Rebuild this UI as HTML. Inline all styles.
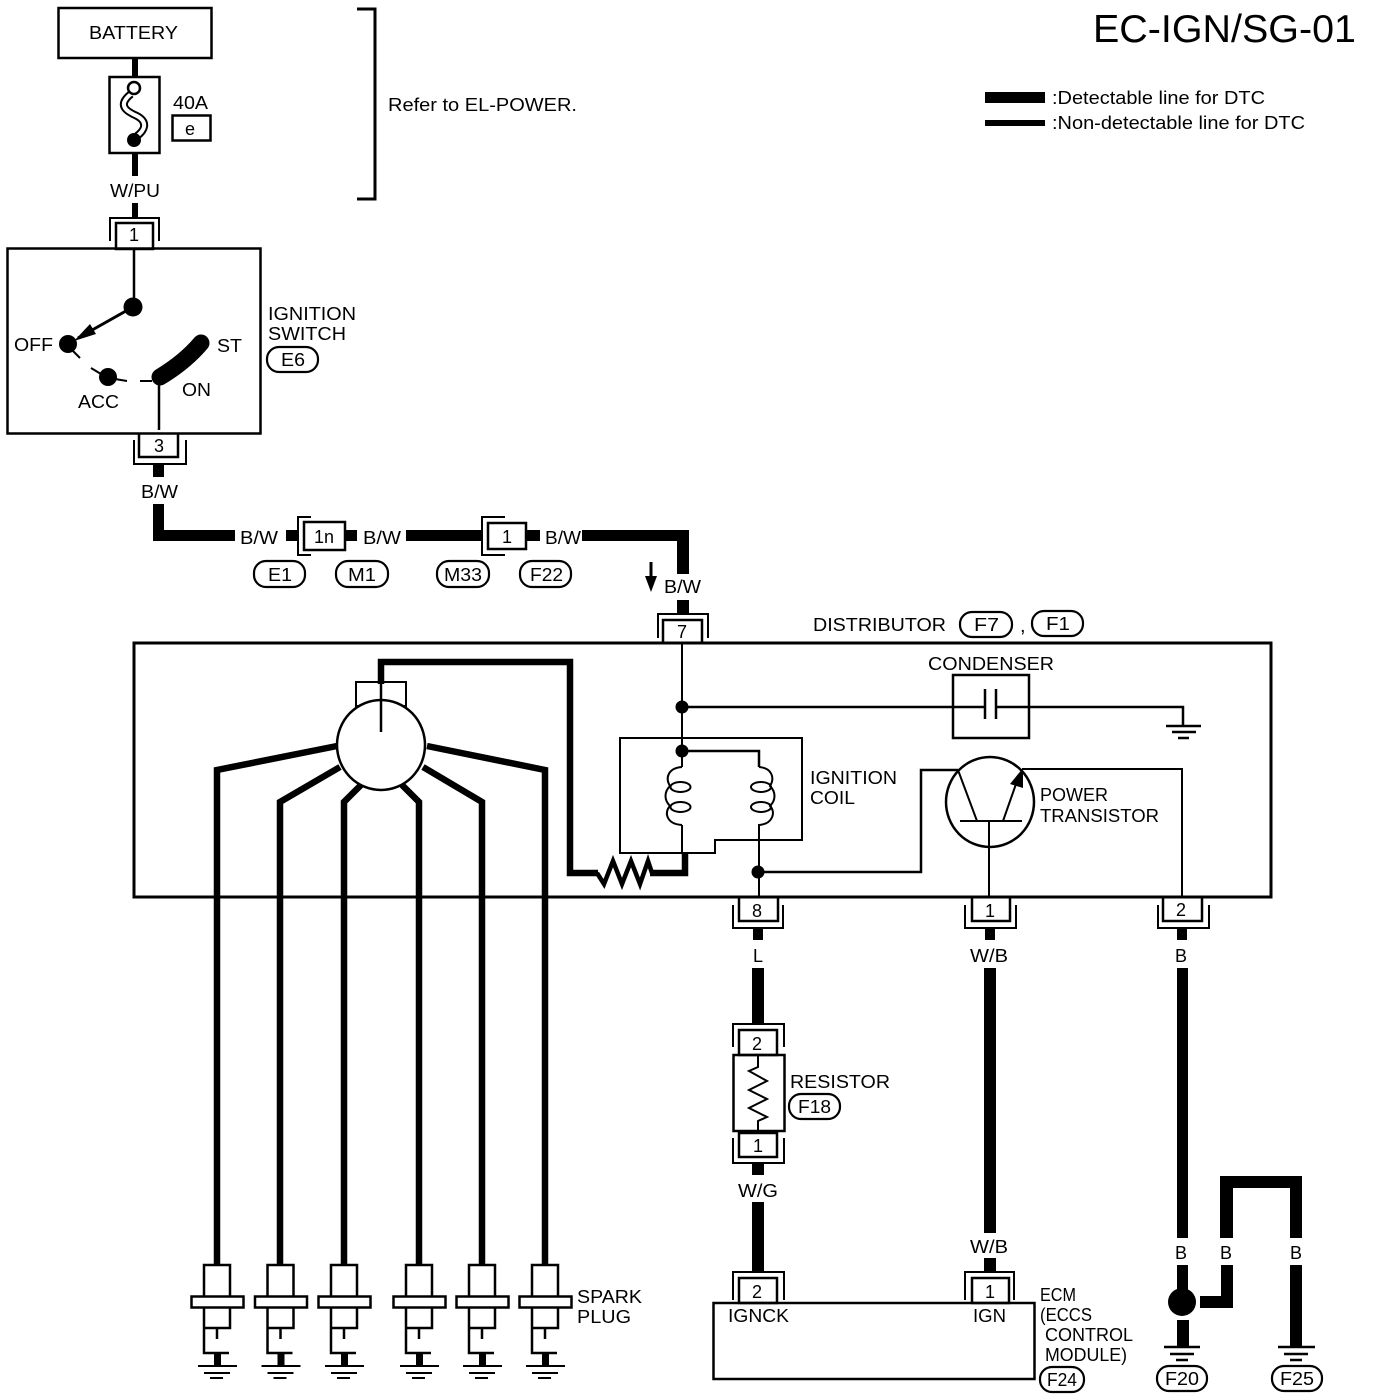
<!DOCTYPE html>
<html><head><meta charset="utf-8"><title>EC-IGN/SG-01</title>
<style>
html,body{margin:0;padding:0;background:#fff}
svg{display:block}
text{font-family:"Liberation Sans",sans-serif;font-size:18px;fill:#000}
.l{fill:none;stroke:#000;stroke-width:2.5}
.t{fill:none;stroke:#000;stroke-width:2}
.w{fill:none;stroke:#000;stroke-width:6.5}
.z{fill:none;stroke:#000;stroke-width:4.5}
.tag{fill:#fff;stroke:#000;stroke-width:2.2}
</style></head><body>
<svg width="1376" height="1400" viewBox="0 0 1376 1400" xmlns="http://www.w3.org/2000/svg">
<rect width="1376" height="1400" fill="#fff"/>

<!-- Title and legend -->
<text x="1093" y="42" style="font-size:39px" textLength="263" lengthAdjust="spacingAndGlyphs">EC-IGN/SG-01</text>
<rect x="985" y="92" width="60" height="11" fill="#000"/>
<rect x="985" y="120" width="60" height="6" fill="#000"/>
<text x="1052" y="104" textLength="213" lengthAdjust="spacingAndGlyphs">:Detectable line for DTC</text>
<text x="1052" y="129" textLength="253" lengthAdjust="spacingAndGlyphs">:Non-detectable line for DTC</text>

<!-- Battery -->
<rect x="58.500" y="8" width="153" height="50" class="l"/>
<text x="89" y="39" textLength="89" lengthAdjust="spacingAndGlyphs">BATTERY</text>
<rect x="132" y="58" width="6" height="20" fill="#000"/>
<rect x="109.500" y="77" width="50" height="76" class="l"/>
<path d="M131 94C116 106 128 112 137 116C148 122 145 130 137 136" fill="none" stroke="#000" stroke-width="8"/>
<path d="M131 94C116 106 128 112 137 116C148 122 145 130 137 136" fill="none" stroke="#fff" stroke-width="4"/>
<circle cx="134" cy="88" r="6" fill="#fff" stroke="#000" stroke-width="2.500"/>
<circle cx="134" cy="140" r="7" fill="#000"/>
<rect x="132" y="153" width="6" height="23" fill="#000"/>
<text x="173" y="109" textLength="35" lengthAdjust="spacingAndGlyphs">40A</text>
<rect x="172.500" y="115.500" width="38" height="25" class="l"/>
<text x="185" y="135">e</text>
<text x="110" y="197" textLength="50" lengthAdjust="spacingAndGlyphs">W/PU</text>
<rect x="132" y="203" width="6" height="15" fill="#000"/>

<!-- Bracket -->
<path d="M357 9H375V199H357" fill="none" stroke="#000" stroke-width="3"/>
<text x="388" y="111" textLength="189" lengthAdjust="spacingAndGlyphs">Refer to EL-POWER.</text>

<!-- Connector 1 -->
<path d="M110 241V218H159V241" class="t"/>
<rect x="116" y="223" width="37" height="26" class="l"/>
<text x="129" y="241">1</text>

<!-- Ignition switch -->
<rect x="7.500" y="248.500" width="253" height="185" class="l"/>
<path d="M134 248V307" class="l"/>
<circle cx="133" cy="307" r="9.500" fill="#000"/>
<path d="M133 307L78 338" fill="none" stroke="#000" stroke-width="3"/>
<polygon points="74,341 90,324 96,334" fill="#000"/>
<circle cx="68" cy="344" r="9" fill="#000"/>
<path d="M72 350L80 358" class="t"/>
<circle cx="108" cy="377" r="9" fill="#000"/>
<path d="M91 368L101 374M115 379L127 381M140 381L152 381" class="t"/>
<path d="M201 343C190 356 175 368 160 377" fill="none" stroke="#000" stroke-width="17" stroke-linecap="round"/>
<path d="M159 380V430" class="l"/>
<text x="14" y="351" textLength="39" lengthAdjust="spacingAndGlyphs">OFF</text>
<text x="217" y="352" textLength="25" lengthAdjust="spacingAndGlyphs">ST</text>
<text x="182" y="396" textLength="29" lengthAdjust="spacingAndGlyphs">ON</text>
<text x="78" y="408" textLength="41" lengthAdjust="spacingAndGlyphs">ACC</text>
<text x="268" y="320" textLength="88" lengthAdjust="spacingAndGlyphs">IGNITION</text>
<text x="268" y="340" textLength="78" lengthAdjust="spacingAndGlyphs">SWITCH</text>
<rect x="267" y="347" width="51" height="25" rx="12" class="tag"/>
<text x="281" y="366" textLength="24" lengthAdjust="spacingAndGlyphs">E6</text>

<!-- Connector 3 -->
<path d="M139 433V457H178V433" class="l"/>
<path d="M134 440V464H186V440" class="t"/>
<text x="154" y="452">3</text>
<rect x="153" y="465" width="11" height="12" fill="#000"/>
<text x="141" y="498" textLength="37" lengthAdjust="spacingAndGlyphs">B/W</text>

<!-- B/W run -->
<path d="M153 504H164V530H235V541H153Z" fill="#000"/>
<text x="240" y="544" textLength="38" lengthAdjust="spacingAndGlyphs">B/W</text>
<rect x="286" y="530" width="12" height="11" fill="#000"/>
<path d="M311 517H298V555H311" class="t"/>
<rect x="304" y="522" width="41" height="28" class="l"/>
<text x="314" y="543" textLength="20" lengthAdjust="spacingAndGlyphs">1n</text>
<rect x="345" y="530" width="12" height="11" fill="#000"/>
<text x="363" y="544" textLength="38" lengthAdjust="spacingAndGlyphs">B/W</text>
<rect x="406" y="530" width="77" height="11" fill="#000"/>
<path d="M505 517H482V555H505" class="t"/>
<rect x="488" y="523" width="38" height="26" class="l"/>
<text x="502" y="543">1</text>
<rect x="526" y="530" width="14" height="11" fill="#000"/>
<text x="545" y="544" textLength="36" lengthAdjust="spacingAndGlyphs">B/W</text>
<path d="M582 530H689V574H677V541H582Z" fill="#000"/>
<rect x="254" y="561" width="51" height="26" rx="12" class="tag"/>
<text x="268" y="581" textLength="24" lengthAdjust="spacingAndGlyphs">E1</text>
<rect x="336" y="561" width="52" height="26" rx="12" class="tag"/>
<text x="348" y="581" textLength="28" lengthAdjust="spacingAndGlyphs">M1</text>
<rect x="437" y="561" width="52" height="26" rx="12" class="tag"/>
<text x="444" y="581" textLength="38" lengthAdjust="spacingAndGlyphs">M33</text>
<rect x="520" y="561" width="51" height="26" rx="12" class="tag"/>
<text x="530" y="581" textLength="33" lengthAdjust="spacingAndGlyphs">F22</text>
<path d="M651 562V578" stroke="#000" stroke-width="3" fill="none"/>
<polygon points="645,576 657,576 651,592" fill="#000"/>
<text x="664" y="593" textLength="37" lengthAdjust="spacingAndGlyphs">B/W</text>
<rect x="677" y="600" width="12" height="13" fill="#000"/>

<!-- Connector 7 -->
<path d="M658 638V614H708V638" class="t"/>
<path d="M663 643V620H702V643" class="l"/>
<text x="677" y="638">7</text>

<!-- Distributor -->
<rect x="134" y="643" width="1137" height="254" class="l" style="stroke-width:3"/>
<text x="813" y="631" textLength="133" lengthAdjust="spacingAndGlyphs">DISTRIBUTOR</text>
<rect x="960" y="612" width="52" height="25" rx="12" class="tag"/>
<text x="974" y="631" textLength="25" lengthAdjust="spacingAndGlyphs">F7</text>
<text x="1020" y="632" style="font-size:20px">,</text>
<rect x="1032" y="611" width="51" height="25" rx="12" class="tag"/>
<text x="1046" y="630" textLength="24" lengthAdjust="spacingAndGlyphs">F1</text>

<!-- Rotor -->
<rect x="356" y="682" width="50" height="24" class="t"/>
<ellipse cx="381" cy="745" rx="44" ry="45" fill="#fff" stroke="#000" stroke-width="2.500"/>
<path d="M381 684V662H570V873H598" class="w"/>
<path d="M381 682V732" class="l"/>
<path d="M597 873L604 884L613 861L622 884L631 861L640 884L648 861L652 873" class="z"/>
<path d="M650 873H685V853" class="w"/>
<path d="M337 746L217 770V1264" class="w"/>
<path d="M340 767L280 802V1264" class="w"/>
<path d="M361 785L344 802V1264" class="w"/>
<path d="M402 785L419 802V1264" class="w"/>
<path d="M423 767L482 802V1264" class="w"/>
<path d="M427 746L545 770V1264" class="w"/>

<!-- Internal lines -->
<path d="M682 643V767" class="t"/>
<path d="M682 825V853" class="t"/>
<circle cx="682" cy="707" r="6.500" fill="#000"/>
<circle cx="682" cy="751" r="6.500" fill="#000"/>
<path d="M682 707H985M996 707H1183V725" class="l"/>
<rect x="953" y="675" width="76" height="63" class="l"/>
<path d="M985 689V719M996 689V719" class="l"/>
<path d="M1166 726H1201M1172 732H1196M1178 738H1189" class="l"/>
<text x="928" y="670" textLength="126" lengthAdjust="spacingAndGlyphs">CONDENSER</text>

<!-- Coil -->
<path d="M620 738H802V840H715V853H620Z" class="t"/>
<path d="M682 751H759V767" class="l"/>
<path d="M682 767C668 768 665 778 670 786C664 792 664 800 670 806C664 812 666 824 682 825" class="t"/>
<path d="M759 767C772 768 775 778 770 786C776 792 776 800 770 806C776 812 773 824 759 825V897" class="t"/>
<ellipse cx="680.500" cy="787" rx="10" ry="5" class="t"/>
<ellipse cx="680.500" cy="807" rx="10" ry="5" class="t"/>
<ellipse cx="761" cy="787" rx="10" ry="5" class="t"/>
<ellipse cx="761" cy="807" rx="10" ry="5" class="t"/>
<text x="810" y="784" textLength="87" lengthAdjust="spacingAndGlyphs">IGNITION</text>
<text x="810" y="804" textLength="45" lengthAdjust="spacingAndGlyphs">COIL</text>
<circle cx="758" cy="872" r="6.500" fill="#000"/>
<path d="M758 872H921V770H958" class="l"/>

<!-- Transistor -->
<ellipse cx="990" cy="802" rx="44" ry="45" fill="#fff" stroke="#000" stroke-width="2.500"/>
<path d="M960 821H1022M958 770L977 821M1003 821L1016 784M1022 769H1182V897M989 821V897" class="t"/>
<polygon points="1023,768 1023,788 1010,784" fill="#000"/>
<text x="1040" y="801" textLength="68" lengthAdjust="spacingAndGlyphs">POWER</text>
<text x="1040" y="822" textLength="119" lengthAdjust="spacingAndGlyphs">TRANSISTOR</text>

<!-- Bottom connectors -->
<path d="M739 897V921H778V897" class="l"/><path d="M733 905V928H783V905" class="t"/>
<text x="752" y="917">8</text>
<path d="M972 897V921H1010V897" class="l"/><path d="M965 905V928H1016V905" class="t"/>
<text x="985" y="917">1</text>
<path d="M1163 897V921H1202V897" class="l"/><path d="M1158 905V928H1209V905" class="t"/>
<text x="1176" y="916">2</text>
<rect x="753" y="928" width="10" height="12" fill="#000"/>
<rect x="985" y="928" width="10" height="12" fill="#000"/>
<rect x="1177" y="928" width="10" height="12" fill="#000"/>
<text x="753" y="962">L</text>
<text x="970" y="962" textLength="38" lengthAdjust="spacingAndGlyphs">W/B</text>
<text x="1175" y="962">B</text>
<rect x="752" y="968" width="12" height="56" fill="#000"/>
<rect x="984" y="968" width="12" height="265" fill="#000"/>
<rect x="1177" y="968" width="11" height="270" fill="#000"/>

<!-- Resistor -->
<path d="M733 1047V1024H784V1047" class="t"/>
<rect x="739" y="1030" width="38" height="25" class="l"/>
<text x="752" y="1050">2</text>
<rect x="733.500" y="1055" width="51" height="76" class="l"/>
<path d="M758 1055V1067L749 1071L767 1081L749 1090L767 1099L749 1108L767 1117L758 1121V1131" class="t"/>
<rect x="739" y="1133" width="38" height="24" class="l"/>
<text x="753" y="1152">1</text>
<path d="M733 1138V1163H784V1138" class="t"/>
<rect x="752" y="1163" width="12" height="12" fill="#000"/>
<text x="738" y="1197" textLength="40" lengthAdjust="spacingAndGlyphs">W/G</text>
<rect x="752" y="1202" width="12" height="70" fill="#000"/>
<text x="790" y="1088" textLength="100" lengthAdjust="spacingAndGlyphs">RESISTOR</text>
<rect x="789" y="1094" width="51" height="25" rx="12" class="tag"/>
<text x="798" y="1113" textLength="33" lengthAdjust="spacingAndGlyphs">F18</text>

<!-- ECM -->
<path d="M733 1300V1272H784V1300" class="t"/>
<rect x="739" y="1278" width="38" height="25" class="l"/>
<text x="752" y="1298">2</text>
<path d="M965 1300V1272H1014V1300" class="t"/>
<rect x="972" y="1278" width="37" height="25" class="l"/>
<text x="985" y="1298">1</text>
<rect x="984" y="1258" width="12" height="14" fill="#000"/>
<text x="970" y="1253" textLength="38" lengthAdjust="spacingAndGlyphs">W/B</text>
<rect x="713.500" y="1303" width="321" height="76" class="l"/>
<text x="728" y="1322" textLength="61" lengthAdjust="spacingAndGlyphs">IGNCK</text>
<text x="973" y="1322" textLength="33" lengthAdjust="spacingAndGlyphs">IGN</text>
<text x="1040" y="1301" textLength="36" lengthAdjust="spacingAndGlyphs">ECM</text>
<text x="1040" y="1321" textLength="52" lengthAdjust="spacingAndGlyphs">(ECCS</text>
<text x="1045" y="1341" textLength="88" lengthAdjust="spacingAndGlyphs">CONTROL</text>
<text x="1045" y="1361" textLength="82" lengthAdjust="spacingAndGlyphs">MODULE)</text>
<rect x="1040" y="1367" width="44" height="25" rx="12" class="tag"/>
<text x="1047" y="1386" textLength="30" lengthAdjust="spacingAndGlyphs">F24</text>

<!-- Grounds right -->
<text x="1175" y="1259">B</text>
<text x="1220" y="1259">B</text>
<text x="1290" y="1259">B</text>
<rect x="1177" y="1265" width="11" height="26" fill="#000"/>
<circle cx="1182" cy="1302" r="14" fill="#000"/>
<rect x="1177" y="1320" width="12" height="27" fill="#000"/>
<path d="M1200 1296H1221V1265H1233V1308H1200Z" fill="#000"/>
<path d="M1220 1238V1176H1302V1238H1290V1188H1233V1238Z" fill="#000"/>
<rect x="1290" y="1265" width="12" height="82" fill="#000"/>
<path d="M1164 1347H1200M1170 1354H1194M1176 1360H1188" class="l"/>
<path d="M1278 1347H1315M1284 1354H1308M1290 1360H1302" class="l"/>
<rect x="1157" y="1366" width="50" height="25" rx="12" class="tag"/>
<text x="1165" y="1385" textLength="34" lengthAdjust="spacingAndGlyphs">F20</text>
<rect x="1272" y="1366" width="50" height="25" rx="12" class="tag"/>
<text x="1280" y="1385" textLength="34" lengthAdjust="spacingAndGlyphs">F25</text>

<!-- Spark plugs -->
<g><path d="M204 1296V1265H230V1296M204 1308V1328H230V1308M217 1328V1339M204 1328V1353H229" class="l"/><rect x="191.500" y="1296.500" width="52" height="11" class="l"/><rect x="214" y="1353" width="7" height="13" fill="#000"/><path d="M198 1366H237M204 1373H230M210 1378H223" class="t"/></g>
<g transform="translate(63.500,0)"><path d="M204 1296V1265H230V1296M204 1308V1328H230V1308M217 1328V1339M204 1328V1353H229" class="l"/><rect x="191.500" y="1296.500" width="52" height="11" class="l"/><rect x="214" y="1353" width="7" height="13" fill="#000"/><path d="M198 1366H237M204 1373H230M210 1378H223" class="t"/></g>
<g transform="translate(127,0)"><path d="M204 1296V1265H230V1296M204 1308V1328H230V1308M217 1328V1339M204 1328V1353H229" class="l"/><rect x="191.500" y="1296.500" width="52" height="11" class="l"/><rect x="214" y="1353" width="7" height="13" fill="#000"/><path d="M198 1366H237M204 1373H230M210 1378H223" class="t"/></g>
<g transform="translate(202,0)"><path d="M204 1296V1265H230V1296M204 1308V1328H230V1308M217 1328V1339M204 1328V1353H229" class="l"/><rect x="191.500" y="1296.500" width="52" height="11" class="l"/><rect x="214" y="1353" width="7" height="13" fill="#000"/><path d="M198 1366H237M204 1373H230M210 1378H223" class="t"/></g>
<g transform="translate(265,0)"><path d="M204 1296V1265H230V1296M204 1308V1328H230V1308M217 1328V1339M204 1328V1353H229" class="l"/><rect x="191.500" y="1296.500" width="52" height="11" class="l"/><rect x="214" y="1353" width="7" height="13" fill="#000"/><path d="M198 1366H237M204 1373H230M210 1378H223" class="t"/></g>
<g transform="translate(328,0)"><path d="M204 1296V1265H230V1296M204 1308V1328H230V1308M217 1328V1339M204 1328V1353H229" class="l"/><rect x="191.500" y="1296.500" width="52" height="11" class="l"/><rect x="214" y="1353" width="7" height="13" fill="#000"/><path d="M198 1366H237M204 1373H230M210 1378H223" class="t"/></g>
<text x="577" y="1303" textLength="65" lengthAdjust="spacingAndGlyphs">SPARK</text>
<text x="577" y="1323" textLength="54" lengthAdjust="spacingAndGlyphs">PLUG</text>
</svg>
</body></html>
